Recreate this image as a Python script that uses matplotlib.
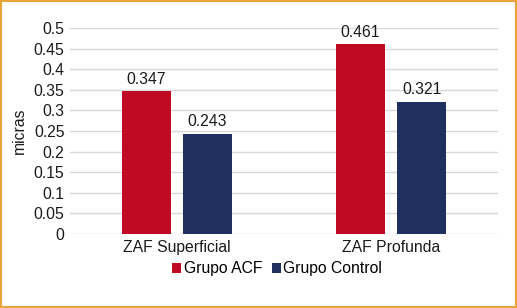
import numpy as np
import matplotlib.pyplot as plt
from matplotlib.patches import Rectangle

plt.rcParams['font.family'] = ['Liberation Sans', 'DejaVu Sans']

categories = ["ZAF Superficial", "ZAF Profunda"]
acf = [0.347, 0.461]
control = [0.243, 0.321]
series_names = ["Grupo ACF", "Grupo Control"]
yticks = [0, 0.05, 0.1, 0.15, 0.2, 0.25, 0.3, 0.35, 0.4, 0.45, 0.5]

red = "#C00A23"
navy = "#1F2F5E"
fs = 11.3

fig = plt.figure(figsize=(5.17, 3.08), dpi=100)
ax = fig.add_axes([70 / 517, 1 - 234 / 308, 428 / 517, 206 / 308])

x = np.arange(len(categories))
w = 0.229
off = 0.143
b1 = ax.bar(x - off, acf, w, color=red, label=series_names[0], zorder=3)
b2 = ax.bar(x + off, control, w, color=navy, label=series_names[1], zorder=3)

for bars, vals in [(b1, acf), (b2, control)]:
    for b, v in zip(bars, vals):
        ax.text(b.get_x() + b.get_width() / 2, v + 0.011, f"{v:g}",
                ha="center", va="bottom", fontsize=fs, color="#1a1a1a")

ax.set_xlim(-0.5, 1.5)
ax.set_ylim(0, 0.5)
ax.set_yticks(yticks)
ax.set_yticklabels([f"{t:g}" for t in yticks], fontsize=fs, color="#1a1a1a")
ax.set_xticks(x)
ax.set_xticklabels(categories, fontsize=fs, color="#1a1a1a")
ax.tick_params(length=0, pad=4)
ax.yaxis.grid(True, color="#D9D9D9", linewidth=1, zorder=0)
for s in ax.spines.values():
    s.set_visible(False)
ax.set_ylabel("micras", fontsize=fs, color="#1a1a1a", labelpad=5)

fig.legend(loc="center", bbox_to_anchor=(277 / 517, 1 - 269 / 308), ncol=2,
           frameon=False, fontsize=fs, handlelength=0.6, handleheight=0.6,
           handletextpad=0.15, columnspacing=0.6)

fig.patches.append(Rectangle((0.002, 0.003), 0.996, 0.994, transform=fig.transFigure,
                             fill=False, edgecolor="#EBA43A", linewidth=1.5))

fig.savefig("out.png", dpi=100)
